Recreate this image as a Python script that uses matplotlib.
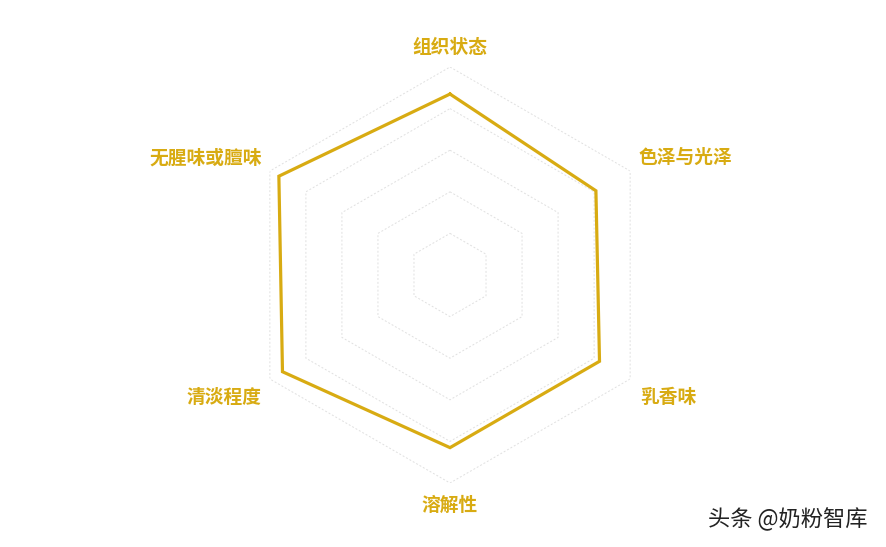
import numpy as np
import matplotlib.pyplot as plt

plt.rcParams['font.family'] = ['Noto Sans CJK SC', 'DejaVu Sans']

labels = ['组织状态', '色泽与光泽', '乳香味', '溶解性', '清淡程度', '无腥味或膻味']
values = [8.7, 8.1, 8.3, 8.3, 9.3, 9.5]
max_val = 10
rings = [2, 4, 6, 8, 10]

gold = '#d8ab12'

fig = plt.figure(figsize=(8.87, 5.47), dpi=100)
ax = fig.add_axes([242 / 887, 64 / 547, 416 / 887, 416 / 547], projection='polar')
ax.set_theta_offset(np.pi / 2)
ax.set_theta_direction(-1)
ax.set_ylim(0, max_val)
ax.set_xticks([])
ax.set_yticks([])
ax.grid(False)
ax.spines['polar'].set_visible(False)
ax.patch.set_alpha(0)

angles = np.linspace(0, 2 * np.pi, len(labels), endpoint=False)
closed = np.append(angles, angles[0])

# hexagon grid rings
for r in rings:
    ax.plot(closed, [r] * len(closed), color='#e0e0e0', lw=0.7,
            ls=(0, (2, 2)), zorder=1)

# data polygon
vals = values + values[:1]
ax.plot(closed, vals, color=gold, lw=2.3, zorder=3, solid_joinstyle='miter')

# axis labels
offsets = [(0, 20, 'center'), (8, 14, 'left'), (10, -18, 'left'),
           (0, -22, 'center'), (-8, -18, 'right'), (-8, 13, 'right')]
for ang, lab, (dx, dy, ha) in zip(angles, labels, offsets):
    ax.annotate(lab, xy=(ang, max_val), xytext=(dx, dy),
                textcoords='offset pixels', ha=ha, va='center',
                fontsize=13.5, fontweight='bold', color=gold)

fig.text(708 / 887, (547 - 519) / 547, '头条 @奶粉智库', fontsize=16,
         color='#222222', ha='left', va='center')

fig.savefig('out.png', dpi=100, facecolor='white')
